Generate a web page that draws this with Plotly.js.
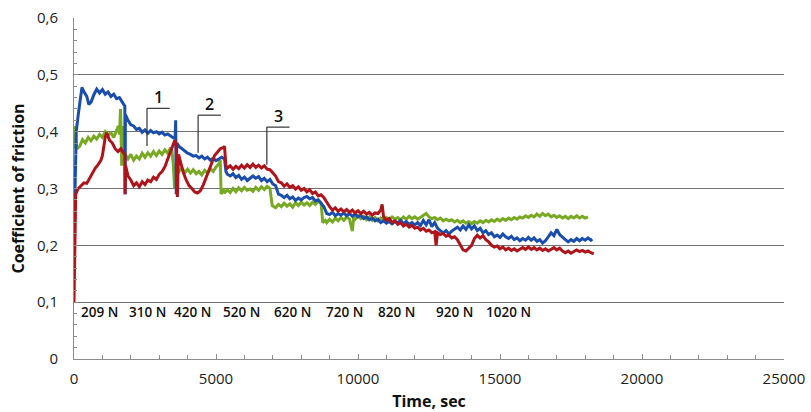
<!DOCTYPE html>
<html>
<head>
<meta charset="utf-8">
<script src="https://cdn.plot.ly/plotly-3.0.1.min.js"></script>
<style>html,body{margin:0;padding:0;background:#fff;}#chart{width:811px;height:412px;}</style>
</head>
<body>
<div id="chart"></div>
<script>
// Series 1 (blue)
const blueT = [0,40,80,150,200,280,350,450,520,600,700,800,900,1000,1100,1200,1300,1400,1500,1600,1700,1750,1790,1800,1810,1900,2000,2100,2200,2300,2400,2500,2600,2700,2800,2900,3000,3100,3200,3300,3400,3500,3560,3580,3600,3620,3700,3800,3900,4000,4100,4200,4300,4400,4500,4600,4700,4800,4900,5000,5100,5200,5300,5350,5400,5500,5600,5700,5800,5900,6000,6100,6200,6300,6400,6500,6600,6700,6800,6900,7000,7100,7200,7300,7400,7500,7600,7700,7800,7900,8000,8100,8200,8300,8400,8500,8600,8700,8800,8900,9000,9100,9200,9300,9400,9500,9600,9700,9800,9900,10000,10100,10200,10300,10400,10500,10600,10700,10800,10900,11000,11100,11200,11300,11400,11500,11600,11700,11800,11900,12000,12100,12200,12300,12400,12500,12600,12700,12800,12900,13000,13100,13200,13300,13400,13500,13600,13700,13800,13900,14000,14100,14200,14300,14400,14500,14600,14700,14800,14900,15000,15100,15200,15300,15400,15500,15600,15700,15800,15900,16000,16100,16200,16300,16400,16500,16600,16700,16800,16900,17000,17100,17200,17300,17400,17500,17600,17700,17800,17900,18000,18100,18200,18250];
const blueY = [0.21,0.33,0.40,0.43,0.45,0.478,0.47,0.462,0.448,0.452,0.465,0.475,0.468,0.474,0.466,0.47,0.462,0.466,0.458,0.46,0.452,0.448,0.445,0.29,0.43,0.42,0.412,0.41,0.404,0.406,0.399,0.403,0.397,0.402,0.398,0.4,0.396,0.399,0.394,0.396,0.392,0.389,0.388,0.42,0.29,0.38,0.374,0.37,0.366,0.362,0.36,0.357,0.358,0.354,0.357,0.352,0.355,0.35,0.353,0.349,0.352,0.355,0.352,0.33,0.325,0.322,0.326,0.319,0.323,0.316,0.32,0.314,0.318,0.322,0.318,0.321,0.314,0.318,0.312,0.316,0.308,0.305,0.29,0.288,0.284,0.288,0.282,0.285,0.279,0.283,0.28,0.284,0.286,0.282,0.284,0.278,0.28,0.274,0.268,0.256,0.254,0.258,0.252,0.256,0.253,0.257,0.252,0.256,0.251,0.255,0.25,0.253,0.247,0.25,0.245,0.248,0.243,0.246,0.24,0.243,0.239,0.242,0.238,0.242,0.24,0.244,0.238,0.242,0.237,0.24,0.236,0.24,0.235,0.244,0.236,0.245,0.233,0.24,0.23,0.226,0.222,0.226,0.22,0.225,0.228,0.232,0.227,0.234,0.228,0.236,0.229,0.234,0.226,0.23,0.222,0.226,0.219,0.222,0.215,0.218,0.214,0.22,0.215,0.212,0.216,0.21,0.213,0.208,0.212,0.209,0.214,0.209,0.213,0.207,0.21,0.204,0.208,0.216,0.222,0.217,0.228,0.219,0.214,0.21,0.206,0.21,0.207,0.212,0.208,0.212,0.209,0.213,0.209,0.211];

// Series 2 (green)
const greenT = [0,20,60,100,200,300,400,500,600,700,800,900,1000,1100,1200,1300,1400,1500,1560,1600,1640,1680,1720,1760,1800,1900,2000,2100,2200,2300,2400,2500,2600,2700,2800,2900,3000,3100,3200,3300,3400,3450,3500,3540,3580,3700,3800,3900,4000,4100,4200,4300,4400,4500,4600,4700,4800,4900,5000,5100,5150,5180,5250,5300,5400,5500,5600,5700,5800,5900,6000,6100,6200,6300,6400,6500,6600,6700,6800,6900,6980,7100,7200,7300,7400,7500,7600,7700,7800,7900,8000,8100,8200,8300,8400,8500,8600,8700,8760,8850,8900,9000,9100,9200,9300,9400,9500,9600,9700,9800,9850,9900,10000,10100,10200,10300,10400,10500,10600,10700,10800,10900,11000,11100,11200,11300,11400,11500,11600,11700,11800,11900,12000,12100,12200,12300,12400,12500,12600,12700,12800,12900,13000,13100,13200,13300,13400,13500,13600,13700,13800,13900,14000,14100,14200,14300,14400,14500,14600,14700,14800,14900,15000,15100,15200,15300,15400,15500,15600,15700,15800,15900,16000,16100,16200,16300,16400,16500,16600,16700,16800,16900,17000,17100,17200,17300,17400,17500,17600,17700,17800,17900,18000,18100];
const greenY = [0.37,0.41,0.39,0.37,0.374,0.386,0.38,0.39,0.384,0.392,0.387,0.395,0.39,0.4,0.394,0.398,0.39,0.402,0.41,0.395,0.44,0.34,0.41,0.37,0.36,0.352,0.36,0.35,0.357,0.352,0.362,0.355,0.363,0.357,0.365,0.358,0.366,0.36,0.368,0.362,0.372,0.366,0.34,0.30,0.335,0.33,0.336,0.328,0.334,0.327,0.333,0.326,0.33,0.324,0.332,0.327,0.335,0.33,0.338,0.343,0.35,0.29,0.3,0.292,0.298,0.293,0.3,0.294,0.301,0.296,0.302,0.297,0.299,0.295,0.302,0.297,0.303,0.298,0.304,0.3,0.27,0.266,0.272,0.268,0.274,0.269,0.273,0.267,0.275,0.27,0.276,0.271,0.275,0.27,0.276,0.272,0.278,0.274,0.24,0.244,0.24,0.246,0.241,0.248,0.243,0.249,0.244,0.25,0.246,0.225,0.25,0.246,0.252,0.247,0.251,0.245,0.25,0.244,0.249,0.243,0.248,0.244,0.249,0.245,0.25,0.246,0.249,0.245,0.25,0.246,0.251,0.247,0.25,0.246,0.249,0.252,0.256,0.25,0.247,0.249,0.245,0.248,0.243,0.246,0.243,0.245,0.241,0.244,0.24,0.243,0.239,0.242,0.238,0.242,0.239,0.243,0.24,0.244,0.241,0.245,0.242,0.246,0.243,0.247,0.244,0.248,0.245,0.249,0.246,0.25,0.248,0.252,0.249,0.253,0.25,0.255,0.251,0.256,0.252,0.255,0.25,0.253,0.249,0.252,0.248,0.251,0.247,0.251,0.248,0.252,0.248,0.251,0.248,0.25];

// Series 3 (red)
const redT = [0,30,60,150,250,350,450,550,650,750,850,950,1000,1050,1100,1150,1200,1250,1350,1450,1550,1650,1750,1790,1800,1820,1900,2000,2100,2200,2300,2400,2500,2600,2700,2800,2900,3000,3100,3200,3300,3400,3500,3550,3600,3640,3680,3750,3850,3950,4050,4150,4250,4350,4450,4550,4650,4750,4850,4950,5050,5150,5250,5300,5350,5400,5500,5600,5700,5800,5900,6000,6100,6200,6300,6400,6500,6600,6700,6800,6900,7000,7100,7200,7300,7400,7500,7600,7700,7800,7900,8000,8100,8200,8300,8400,8500,8600,8700,8800,8900,9000,9100,9200,9300,9400,9500,9600,9700,9800,9900,10000,10100,10200,10300,10400,10500,10600,10700,10800,10850,10900,11000,11100,11200,11300,11400,11500,11600,11700,11800,11900,12000,12100,12200,12300,12400,12500,12600,12700,12750,12800,12900,13000,13100,13200,13300,13400,13500,13600,13700,13800,13900,14000,14100,14200,14300,14400,14500,14600,14700,14800,14900,15000,15100,15200,15300,15400,15500,15600,15700,15800,15900,16000,16100,16200,16300,16400,16500,16600,16700,16800,16900,17000,17100,17200,17300,17400,17500,17600,17700,17800,17900,18000,18100,18200,18300];
const redY = [0.10,0.26,0.29,0.3,0.305,0.31,0.309,0.318,0.327,0.336,0.342,0.35,0.358,0.375,0.39,0.398,0.392,0.385,0.38,0.37,0.365,0.37,0.362,0.36,0.29,0.34,0.322,0.315,0.305,0.31,0.303,0.312,0.307,0.315,0.312,0.32,0.316,0.325,0.33,0.338,0.352,0.365,0.378,0.385,0.375,0.285,0.36,0.345,0.328,0.315,0.305,0.3,0.294,0.292,0.296,0.306,0.318,0.33,0.345,0.358,0.365,0.37,0.372,0.374,0.34,0.336,0.34,0.334,0.339,0.335,0.341,0.336,0.342,0.337,0.343,0.337,0.341,0.336,0.34,0.334,0.333,0.327,0.322,0.312,0.31,0.304,0.308,0.302,0.305,0.299,0.303,0.297,0.3,0.294,0.298,0.291,0.294,0.287,0.289,0.284,0.275,0.268,0.262,0.266,0.26,0.264,0.259,0.263,0.258,0.262,0.257,0.261,0.256,0.26,0.255,0.258,0.253,0.257,0.256,0.262,0.272,0.25,0.244,0.247,0.24,0.243,0.237,0.24,0.234,0.237,0.232,0.235,0.23,0.232,0.227,0.23,0.225,0.227,0.222,0.224,0.2,0.222,0.219,0.221,0.216,0.218,0.213,0.215,0.21,0.2,0.192,0.19,0.196,0.2,0.212,0.218,0.213,0.217,0.21,0.206,0.2,0.197,0.199,0.194,0.197,0.192,0.195,0.191,0.194,0.19,0.193,0.196,0.193,0.197,0.193,0.196,0.192,0.195,0.191,0.194,0.19,0.193,0.196,0.192,0.195,0.19,0.187,0.19,0.186,0.189,0.192,0.189,0.191,0.188,0.19,0.187,0.185];

// Applied loads and the time at which each label sits
const loadLabels = ["209 N","310 N","420 N","520 N","620 N","720 N","820 N","920 N","1020 N"];
const loadTimes = [900,2590,4170,5910,7710,9510,11370,13400,15300];

// Axis ticks
const xTickVals = [0,5000,10000,15000,20000,25000];
const yTickVals = [0,0.1,0.2,0.3,0.4,0.5,0.6];
const yTickText = ["0","0,1","0,2","0,3","0,4","0,5","0,6"];

// Curve labels and their leader-line anchor points (time, value)
const curveLabels = ["1","2","3"];
const curveAnchorT = [2570,4370,6790];
const curveAnchorY = [0.375,0.363,0.342];

const FONT = "Open Sans, DejaVu Sans, sans-serif";
const traces = [
  {x: greenT, y: greenY, type: "scatter", mode: "lines", line: {color: "#78a922", width: 3}, hoverinfo: "skip"},
  {x: blueT, y: blueY, type: "scatter", mode: "lines", line: {color: "#1a4eac", width: 3}, hoverinfo: "skip"},
  {x: redT, y: redY, type: "scatter", mode: "lines", line: {color: "#b0141b", width: 3}, hoverinfo: "skip"}
];

const annotations = [];
const shapes = [];
loadLabels.forEach((lab, i) => {
  annotations.push({x: loadTimes[i], y: 0.083, xref: "x", yref: "y", text: lab, showarrow: false,
    font: {family: FONT, size: 13.5, color: "#111", weight: 600}, xanchor: "center", yanchor: "middle"});
});
curveLabels.forEach((lab, i) => {
  const t0 = curveAnchorT[i], y0 = curveAnchorY[i];
  const yTop = y0 + 0.066, tEnd = t0 + 800;
  shapes.push({type: "line", xref: "x", yref: "y", x0: t0, y0: y0, x1: t0, y1: yTop, line: {color: "#333", width: 1.2}});
  shapes.push({type: "line", xref: "x", yref: "y", x0: t0, y0: yTop, x1: tEnd, y1: yTop, line: {color: "#333", width: 1.2}});
  annotations.push({x: t0 + 400, y: yTop, xref: "x", yref: "y", text: lab, showarrow: false,
    font: {family: FONT, size: 16, color: "#111", weight: 600}, xanchor: "center", yanchor: "bottom", yshift: -2});
});

const layout = {
  width: 811, height: 412,
  margin: {l: 74, r: 27, t: 18, b: 53, pad: 0},
  paper_bgcolor: "#ffffff", plot_bgcolor: "#ffffff",
  showlegend: false,
  font: {family: FONT, color: "#222"},
  xaxis: {
    range: [0, 25000], tickvals: xTickVals, ticktext: xTickVals.map(String),
    showgrid: false, zeroline: false, showline: true, linecolor: "#8c8c8c", linewidth: 1,
    ticks: "inside", ticklen: 5, tickcolor: "#8c8c8c",
    minor: {dtick: 1000, tick0: 0, ticks: "inside", ticklen: 4, tickcolor: "#8c8c8c", showgrid: false},
    tickfont: {family: FONT, size: 15, color: "#222"},
    ticklabelstandoff: 6,
    title: {text: "<b>Time, sec</b>", font: {family: FONT, size: 16, color: "#111"}, standoff: 10}
  },
  yaxis: {
    range: [0, 0.6], tickvals: yTickVals, ticktext: yTickText,
    showgrid: true, gridcolor: "#707070", gridwidth: 1, zeroline: false,
    showline: true, linecolor: "#8c8c8c", linewidth: 1,
    ticks: "inside", ticklen: 4, tickcolor: "#8c8c8c",
    minor: {dtick: 0.02, tick0: 0, ticks: "inside", ticklen: 3, tickcolor: "#8c8c8c", showgrid: false},
    tickfont: {family: FONT, size: 15, color: "#222"},
    ticklabelstandoff: 12,
    title: {text: "<b>Coefficient of friction</b>", font: {family: FONT, size: 16, color: "#111"}, standoff: 8}
  },
  annotations: annotations,
  shapes: shapes
};

Plotly.newPlot("chart", traces, layout, {staticPlot: true, displayModeBar: false});
</script>
</body>
</html>
